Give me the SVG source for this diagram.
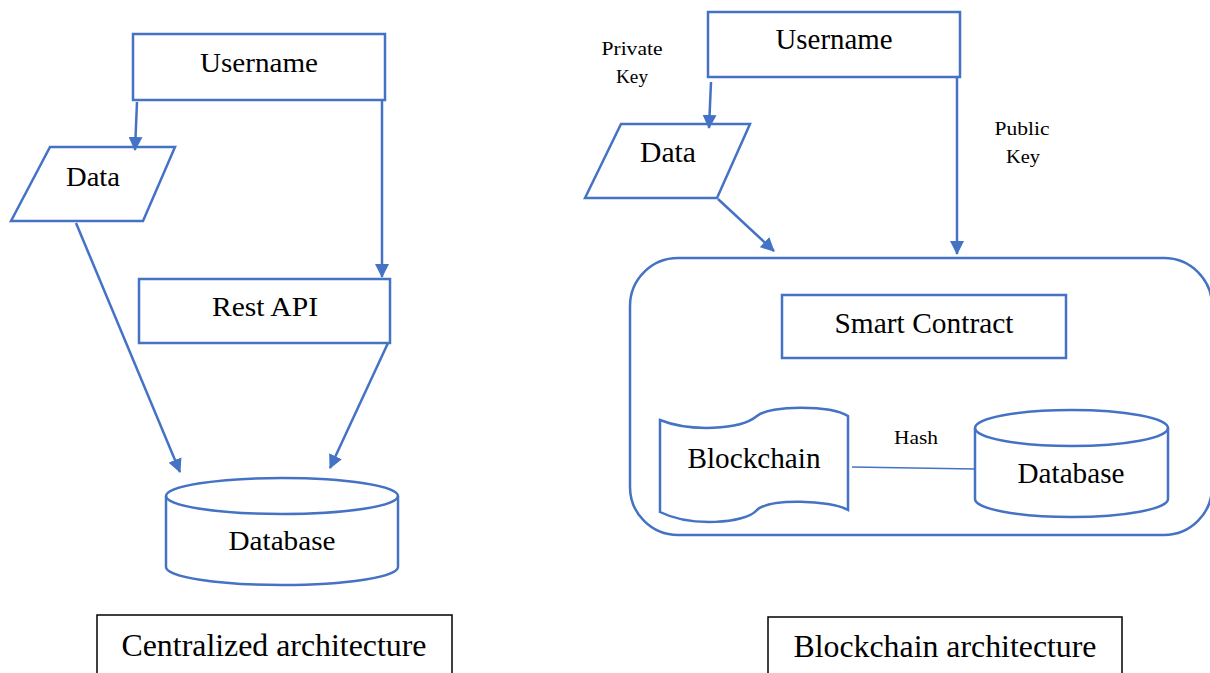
<svg xmlns="http://www.w3.org/2000/svg" width="1210" height="673" viewBox="0 0 1210 673">
<defs>
<marker id="ah" markerWidth="14" markerHeight="14" refX="13" refY="7" orient="auto" markerUnits="userSpaceOnUse">
<path d="M0,0 L14,7 L0,14 Z" fill="#4472C4"/>
</marker>
<style>
.s{fill:#fff;stroke:#4472C4;stroke-width:2.5}
.c{fill:none;stroke:#4472C4;stroke-width:2.5}
.t{font-family:'Liberation Serif','Times New Roman','DejaVu Serif',serif;fill:#000;text-anchor:middle}
.b{fill:#fff;stroke:#000;stroke-width:1.5}
</style>
</defs>
<rect width="1210" height="673" fill="#fff"/>
<g id="left-username">
<rect class="s" x="133" y="34" width="252" height="66"/>
<text class="t" font-family="Liberation Serif" x="259" y="72" font-size="28" textLength="118" lengthAdjust="spacingAndGlyphs">Username</text>
</g>
<g id="left-data">
<polygon class="s" points="11,221 50,147 175,147 143,221"/>
<text class="t" font-family="Liberation Serif" x="93" y="186" font-size="28" textLength="54" lengthAdjust="spacingAndGlyphs">Data</text>
</g>
<g id="rest-api">
<rect class="s" x="139" y="279" width="251" height="64"/>
<text class="t" font-family="Liberation Serif" x="265" y="316" font-size="28" textLength="106" lengthAdjust="spacingAndGlyphs">Rest API</text>
</g>
<g id="left-database">
<path class="s" d="M166,496 L166,567 A116,18 0 0 0 398,567 L398,496 A116,18 0 0 0 166,496 Z"/>
<path class="c" d="M166,496 A116,18 0 0 0 398,496"/>
<text class="t" font-family="Liberation Serif" x="282" y="550" font-size="28" textLength="107" lengthAdjust="spacingAndGlyphs">Database</text>
</g>
<g id="centralized-label">
<rect class="b" x="97" y="615" width="355" height="62"/>
<text class="t" font-family="Liberation Serif" x="274" y="656" font-size="31" textLength="305" lengthAdjust="spacingAndGlyphs">Centralized architecture</text>
</g>
<g id="right-username">
<rect class="s" x="708" y="12" width="252" height="65"/>
<text class="t" font-family="Liberation Serif" x="834" y="49" font-size="30" textLength="117" lengthAdjust="spacingAndGlyphs">Username</text>
</g>
<g id="right-data">
<polygon class="s" points="585,198 621,124 750,124 717,198"/>
<text class="t" font-family="Liberation Serif" x="668" y="162" font-size="29" textLength="56" lengthAdjust="spacingAndGlyphs">Data</text>
</g>
<g id="blockchain-network">
<rect class="s" x="630" y="258" width="582" height="277" rx="48" ry="48"/>
</g>
<g id="smart-contract">
<rect class="s" x="782" y="295" width="284" height="63"/>
<text class="t" font-family="Liberation Serif" x="924" y="333" font-size="29" textLength="179" lengthAdjust="spacingAndGlyphs">Smart Contract</text>
</g>
<g id="blockchain">
<path class="s" d="M660,420 C690,432 740,430 757,416 C770,405 830,405 848,416 L848,510 C830,500 770,498 757,510 C745,524 690,527 660,512 Z"/>
<text class="t" font-family="Liberation Serif" x="754" y="468" font-size="29" textLength="133" lengthAdjust="spacingAndGlyphs">Blockchain</text>
</g>
<g id="right-database">
<path class="s" d="M975,428 L975,499 A96.5,18 0 0 0 1168,499 L1168,428 A96.5,18 0 0 0 975,428 Z"/>
<path class="c" d="M975,428 A96.5,18 0 0 0 1168,428"/>
<text class="t" font-family="Liberation Serif" x="1071" y="483" font-size="29" textLength="107" lengthAdjust="spacingAndGlyphs">Database</text>
</g>
<g id="blockchain-label">
<rect class="b" x="768" y="617" width="354" height="60"/>
<text class="t" font-family="Liberation Serif" x="945" y="657" font-size="31" textLength="303" lengthAdjust="spacingAndGlyphs">Blockchain architecture</text>
</g>
<g id="connectors">
<line class="c" x1="137" y1="102" x2="135" y2="150" marker-end="url(#ah)"/>
<polyline class="c" points="382,100 382,277" marker-end="url(#ah)"/>
<line class="c" x1="76" y1="223" x2="180" y2="472" marker-end="url(#ah)"/>
<line class="c" x1="388" y1="343" x2="330" y2="468" marker-end="url(#ah)"/>
<line class="c" x1="711" y1="82" x2="709" y2="128" marker-end="url(#ah)"/>
<polyline class="c" points="957,77 957,254" marker-end="url(#ah)"/>
<line class="c" x1="718" y1="199" x2="774" y2="251" marker-end="url(#ah)"/>
<line x1="852" y1="467" x2="975" y2="469" stroke="#4472C4" stroke-width="1.3"/>
<text class="t" font-family="Liberation Serif" x="632" y="55" font-size="18" textLength="61" lengthAdjust="spacingAndGlyphs">Private</text>
<text class="t" font-family="Liberation Serif" x="632" y="83" font-size="18" textLength="32" lengthAdjust="spacingAndGlyphs">Key</text>
<text class="t" font-family="Liberation Serif" x="1022" y="135" font-size="18" textLength="55" lengthAdjust="spacingAndGlyphs">Public</text>
<text class="t" font-family="Liberation Serif" x="1023" y="163" font-size="18" textLength="34" lengthAdjust="spacingAndGlyphs">Key</text>
<text class="t" font-family="Liberation Serif" x="916" y="444" font-size="18" textLength="44" lengthAdjust="spacingAndGlyphs">Hash</text>
</g>
</svg>
